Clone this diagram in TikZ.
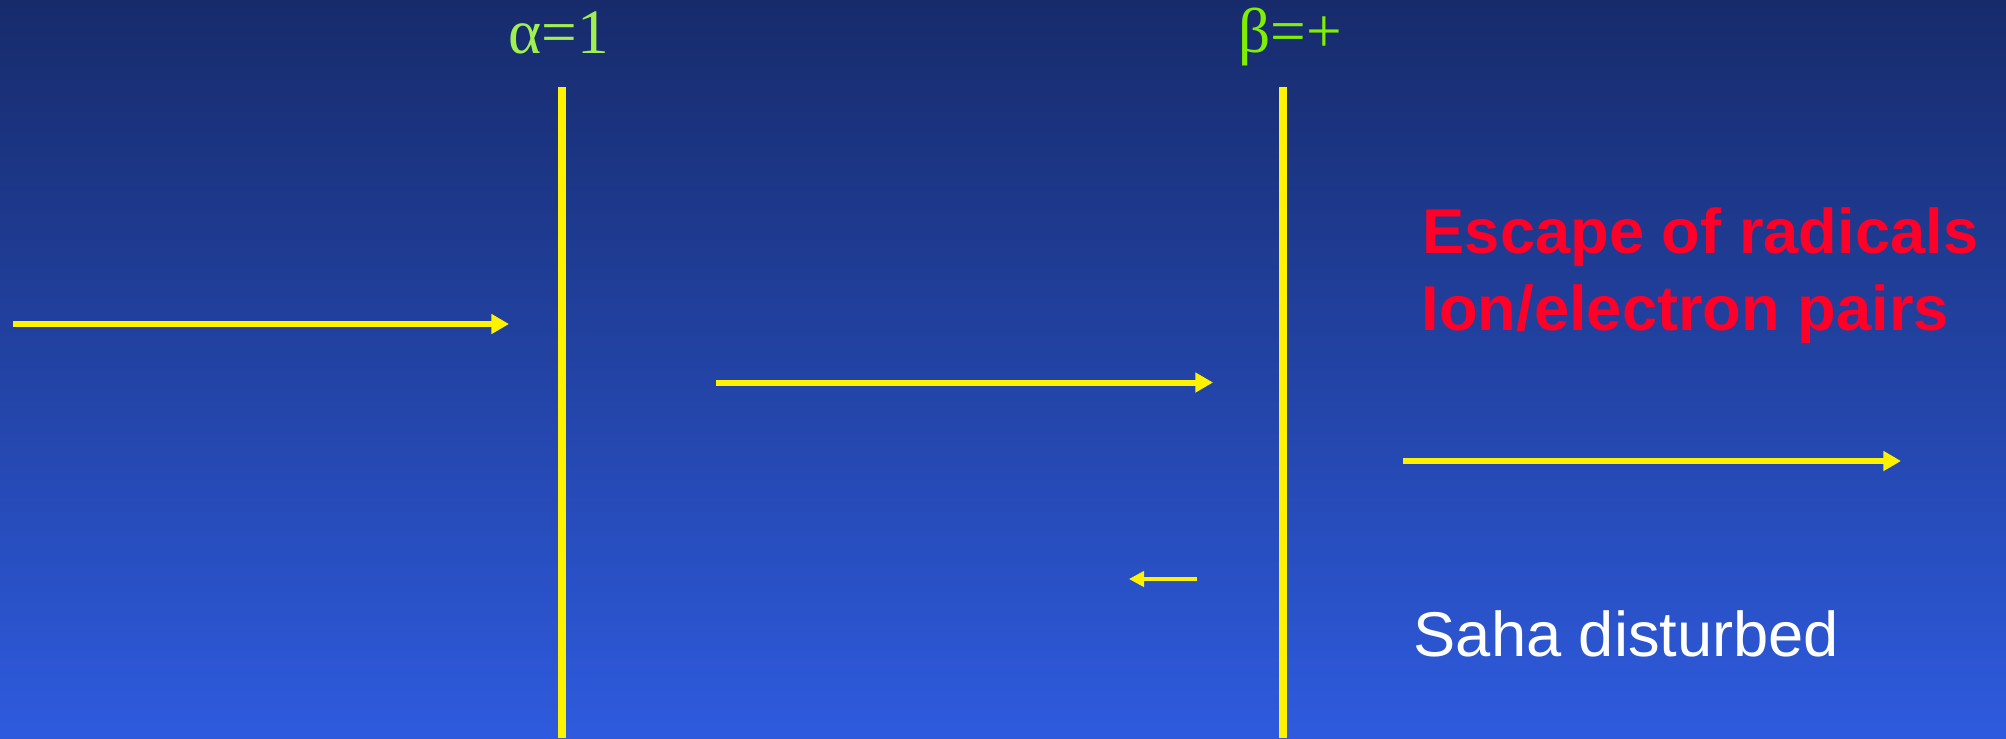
\documentclass[tikz,border=0pt]{standalone}
\usepackage{fontspec}
\setmainfont{Liberation Serif}
\setsansfont{Liberation Sans}
\usetikzlibrary{arrows.meta}

\definecolor{bgtop}{RGB}{23,43,107}
\definecolor{bgbot}{RGB}{46,91,222}
\definecolor{alphagreen}{RGB}{160,240,80}
\definecolor{betagreen}{RGB}{128,240,0}
\definecolor{radred}{RGB}{255,0,40}

\begin{document}
\begin{tikzpicture}[
  wall/.style={draw=yellow, line width=2.3pt},
  flux/.style={draw=yellow, line width=1.7pt, -{Triangle[length=5pt, width=5.4pt]}},
  back/.style={draw=yellow, line width=0.9pt, -{Triangle[length=4.3pt, width=4.4pt]}},
  greek/.style={font=\fontsize{18}{21}\selectfont, inner sep=0pt, anchor=base},
  note/.style={font=\sffamily\fontsize{18}{22}\selectfont, inner sep=0pt, anchor=base west},
]
% Background
\shade[top color=bgtop, bottom color=bgbot] (0,0) rectangle (20.06,-7.38);
\useasboundingbox (0,0) rectangle (20.06,-7.38);

% Labels above the walls
\node[greek, text=alphagreen] (alpha) at (5.59,-0.53) {α=1};
\node[greek, text=betagreen] (beta) at (12.90,-0.52) {β=+};

% Walls
\coordinate (w1top) at (5.62,-0.87);
\coordinate (w1bot) at (5.62,-7.38);
\coordinate (w2top) at (12.83,-0.87);
\coordinate (w2bot) at (12.83,-7.38);
\draw[wall] (w1top) -- (w1bot);
\draw[wall] (w2top) -- (w2bot);

% Texts on the right
\node[note, text=radred, font=\sffamily\bfseries\fontsize{18}{22}\selectfont] (esc) at (14.22,-2.53) {Escape of radicals};
\node[note, text=radred, font=\sffamily\bfseries\fontsize{18}{22}\selectfont] (ion) at (14.21,-3.30) {Ion/electron pairs};
\node[note, text=white] (saha) at (14.13,-6.56) {Saha disturbed};

% Arrows
\coordinate (a1s) at (0.13,-3.24);
\coordinate (a1e) at (5.09,-3.24);
\coordinate (a2s) at (7.16,-3.825);
\coordinate (a2e) at (12.13,-3.825);
\coordinate (a3s) at (14.03,-4.61);
\coordinate (a3e) at (19.01,-4.61);
\coordinate (a4s) at (11.97,-5.79);
\coordinate (a4e) at (11.29,-5.79);
\draw[flux] (a1s) -- (a1e);
\draw[flux] (a2s) -- (a2e);
\draw[flux] (a3s) -- (a3e);
\draw[back] (a4s) -- (a4e);
\end{tikzpicture}
\end{document}
